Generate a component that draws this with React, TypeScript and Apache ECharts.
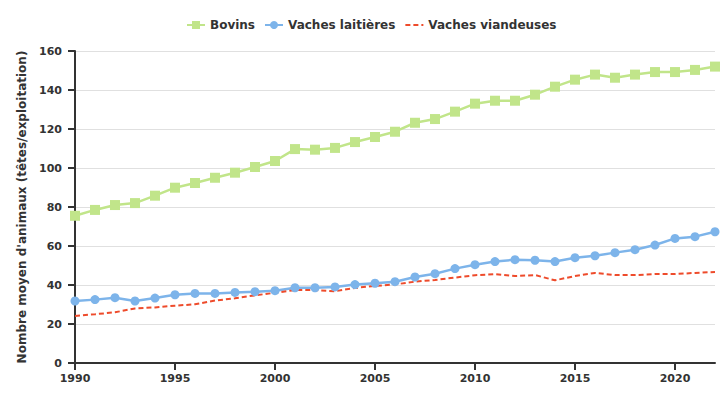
import React, { useEffect, useRef } from "react";
import * as echarts from "echarts";

const years = [1990,1991,1992,1993,1994,1995,1996,1997,1998,1999,2000,2001,2002,2003,2004,2005,2006,2007,2008,2009,2010,2011,2012,2013,2014,2015,2016,2017,2018,2019,2020,2021,2022];
const bovins = [75.5,78.5,81,82,85.8,89.9,92.3,95,97.6,100.5,103.6,109.7,109.4,110.3,113.3,115.9,118.6,123.2,125.1,128.9,133,134.5,134.5,137.6,141.7,145.3,147.9,146.3,147.9,149.2,149.2,150.3,152];
const laitieres = [31.8,32.5,33.5,31.8,33.3,35,35.7,35.7,36.2,36.6,37.1,38.6,38.6,39,40.2,40.9,41.7,44.1,45.8,48.4,50.4,52,53,52.7,52,54,55,56.6,58.1,60.5,63.9,64.8,67.3];
const viandeuses = [24.1,25,26,28,28.5,29.4,30.1,32,33.2,34.7,36,37.4,37.4,36.8,38.5,39.5,40.3,41.7,42.6,43.8,45,45.6,44.6,45.1,42.4,44.6,46.2,45.1,45.1,45.6,45.6,46.2,46.7];
const xTicks = [1990, 1995, 2000, 2005, 2010, 2015, 2020];
const seriesNames = ["Bovins", "Vaches laitières", "Vaches viandeuses"];
const yAxisName = "Nombre moyen d'animaux (têtes/exploitation)";

const pairs = (vals: number[]) => years.map((y, i) => [y, vals[i]]);

export default function App() {
  const ref = useRef<HTMLDivElement>(null);
  useEffect(() => {
    if (!ref.current) return;
    const chart = echarts.init(ref.current, undefined, { renderer: "svg" });
    const font = "DejaVu Sans";
    chart.setOption({
      animation: false,
      textStyle: { fontFamily: font },
      legend: {
        top: 14,
        left: 181,
        itemGap: 9,
        itemWidth: 18,
        itemHeight: 10,
        textStyle: { fontFamily: font, fontWeight: "bold", fontSize: 12, color: "#333" },
        data: [
          { name: seriesNames[0] },
          { name: seriesNames[1] },
          { name: seriesNames[2], itemStyle: { opacity: 0 } },
        ],
      },
      grid: { left: 75, right: 10, top: 51, bottom: 37, containLabel: false, outerBoundsMode: "none" },
      xAxis: {
        type: "value",
        min: 1990,
        max: 2022,
        interval: 5,
        splitLine: { show: false },
        axisLine: { lineStyle: { color: "#333", width: 2 } },
        axisTick: { show: true, length: 7, customValues: xTicks, lineStyle: { color: "#333", width: 2 } },
        axisLabel: {
          fontFamily: font, fontWeight: "bold", fontSize: 11, color: "#333", margin: 10,
          customValues: xTicks,
          formatter: (v: number) => String(v),
        },
      },
      yAxis: {
        type: "value",
        min: 0,
        max: 160,
        interval: 20,
        name: yAxisName,
        nameLocation: "middle",
        nameGap: 47,
        nameTextStyle: { fontFamily: font, fontWeight: "bold", fontSize: 12, color: "#333" },
        axisLine: { show: true, lineStyle: { color: "#333", width: 2 } },
        axisTick: { show: true, length: 7, lineStyle: { color: "#333", width: 2 } },
        axisLabel: { fontFamily: font, fontWeight: "bold", fontSize: 11, color: "#333", margin: 13 },
        splitLine: { lineStyle: { color: "#e0e0e0", width: 1 } },
      },
      series: [
        {
          name: seriesNames[0],
          type: "line",
          data: pairs(bovins),
          symbol: "rect",
          symbolSize: 10,
          itemStyle: { color: "#c1e58a" },
          lineStyle: { color: "#c1e58a", width: 2.5 },
        },
        {
          name: seriesNames[1],
          type: "line",
          data: pairs(laitieres),
          symbol: "circle",
          symbolSize: 9,
          itemStyle: { color: "#7db4ea" },
          lineStyle: { color: "#7db4ea", width: 2.5 },
        },
        {
          name: seriesNames[2],
          type: "line",
          data: pairs(viandeuses),
          symbol: "none",
          itemStyle: { color: "#ee4b2b" },
          lineStyle: { color: "#ee4b2b", width: 2, type: [5, 3] },
        },
      ],
    });
    return () => chart.dispose();
  }, []);
  return <div ref={ref} style={{ width: 725, height: 400, position: "absolute", left: 0, top: 0 }} />;
}
